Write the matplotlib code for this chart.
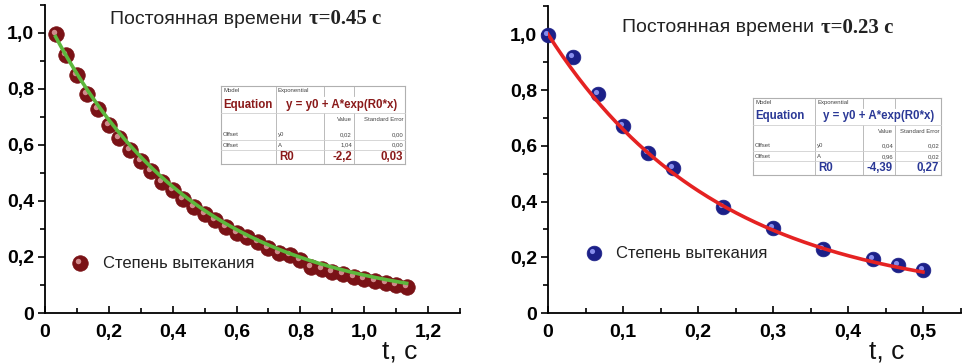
import numpy as np
import matplotlib
matplotlib.use("Agg")
import matplotlib.pyplot as plt
from matplotlib.ticker import MultipleLocator, FuncFormatter
from matplotlib.transforms import offset_copy
from matplotlib.lines import Line2D

plt.rcParams['font.family'] = ['Liberation Sans', 'DejaVu Sans']

W, H = 969, 364

#---------/Data/------------------------------#

# left panel: measured points
t_left = [0.033, 0.067, 0.100, 0.133, 0.167, 0.200, 0.233, 0.267, 0.300, 0.333,
          0.367, 0.400, 0.433, 0.467, 0.500, 0.533, 0.567, 0.600, 0.633, 0.667,
          0.700, 0.733, 0.767, 0.800, 0.833, 0.867, 0.900, 0.933, 0.967, 1.000,
          1.033, 1.067, 1.100, 1.133]
y_left = [0.998, 0.920, 0.849, 0.783, 0.730, 0.670, 0.626, 0.583, 0.542, 0.507,
          0.468, 0.438, 0.408, 0.379, 0.355, 0.331, 0.307, 0.287, 0.271, 0.254,
          0.232, 0.214, 0.206, 0.190, 0.166, 0.157, 0.146, 0.138, 0.129, 0.122,
          0.113, 0.108, 0.099, 0.092]

# right panel: measured points
t_right = [0.0, 0.033, 0.067, 0.100, 0.133, 0.167, 0.233, 0.300, 0.367, 0.433, 0.467, 0.500]
y_right = [0.998, 0.920, 0.786, 0.671, 0.575, 0.519, 0.381, 0.305, 0.231, 0.192, 0.174, 0.153]

# fit parameters shown in the tables: y = y0 + A*exp(R0*x)
fit_left = (0.02, 1.04, -2.2)
fit_right = (0.04, 0.96, -4.39)

# table texts
tab_left = {'y0': ('0,02', '0,00'), 'A': ('1,04', '0,00'), 'R0': ('-2,2', '0,03')}
tab_right = {'y0': ('0,04', '0,02'), 'A': ('0,96', '0,02'), 'R0': ('-4,39', '0,27')}

titles = ['Постоянная времени ', 'Постоянная времени ']
taus = ['τ=0.45 с', 'τ=0.23 с']
legend_label = 'Степень вытекания'


#---------/Helpers/------------------------------#

fig = plt.figure(figsize=(W / 100, H / 100), dpi=100)


def fx(x):
    return x / W


def fy(y):
    return 1 - y / H


def ftxt(x, y, s, **kw):
    fig.text(fx(x), fy(y), s, **kw)


def fline(x0, y0, x1, y1, **kw):
    fig.add_artist(Line2D([fx(x0), fx(x1)], [fy(y0), fy(y1)],
                          transform=fig.transFigure, **kw))


def comma(v, pos):
    if abs(v) < 1e-9:
        return '0'
    return ('%.1f' % v).replace('.', ',')


def sphere(ax, x, y, base, light, ms, transform=None):
    #Base ball plus a small highlight to fake the 3D look
    tr = ax.transData if transform is None else transform
    ax.plot(x, y, 'o', ms=ms, color=base, mec=base, mew=0.5,
            transform=tr, zorder=3, clip_on=False)
    tr2 = offset_copy(tr, fig=fig, x=-2, y=2, units='dots')
    ax.plot(x, y, 'o', ms=ms * 0.35, color=light, mec='none', alpha=0.85,
            transform=tr2, zorder=4, clip_on=False)


def setup_axes(ax, xmax, xmaj, xmin):
    ax.set_xlim(0, xmax)
    ax.set_ylim(0, 1.1)
    for s in ['top', 'right']:
        ax.spines[s].set_visible(False)
    for s in ['left', 'bottom']:
        ax.spines[s].set_linewidth(1.3)
    ax.xaxis.set_major_locator(MultipleLocator(xmaj))
    ax.xaxis.set_minor_locator(MultipleLocator(xmin))
    ax.yaxis.set_major_locator(MultipleLocator(0.2))
    ax.yaxis.set_minor_locator(MultipleLocator(0.1))
    ax.xaxis.set_major_formatter(FuncFormatter(comma))
    ax.yaxis.set_major_formatter(FuncFormatter(comma))
    ax.tick_params(axis='x', which='major', direction='in', length=5, width=1.2, pad=8)
    ax.tick_params(axis='x', which='minor', direction='in', length=3.5, width=1.2)
    ax.tick_params(axis='y', which='major', direction='out', length=5, width=1.2, pad=3)
    ax.tick_params(axis='y', which='minor', direction='out', length=3.5, width=1.2)
    for lab in ax.get_xticklabels() + ax.get_yticklabels():
        lab.set_fontsize(14)
        lab.set_fontweight('bold')
    ax.patch.set_alpha(0)


def draw_table(x0, x1, c1, c2, c3, y0, y1, color, vals):
    h = y1 - y0
    gy = lambda f: y0 + f * h
    grey = '#b0b0b0'
    # frame
    fline(x0, y0, x1, y0, color=grey, lw=0.8)
    fline(x0, y1, x1, y1, color=grey, lw=0.8)
    fline(x0, y0, x0, y1, color=grey, lw=0.8)
    fline(x1, y0, x1, y1, color=grey, lw=0.8)
    # inner lines
    fline(c1, y0, c1, y1, color=grey, lw=0.6)
    fline(c2, y0, c2, gy(0.13), color=grey, lw=0.6)
    fline(c3, y0, c3, gy(0.13), color=grey, lw=0.6)
    fline(c2, gy(0.35), c2, y1, color=grey, lw=0.6)
    fline(c3, gy(0.35), c3, y1, color=grey, lw=0.6)
    for f in [0.35, 0.69, 0.82]:
        fline(x0, gy(f), x1, gy(f), color='#d0d0d0', lw=0.6)
    small = dict(fontsize=4.3, color='#444444', va='center')
    ftxt(x0 + 2, gy(0.06), 'Model', **small)
    ftxt(c1 + 2, gy(0.06), 'Exponential', **small)
    ftxt(c3 - 2, gy(0.43), 'Value', ha='right', **small)
    ftxt(x1 - 2, gy(0.43), 'Standard Error', ha='right', **small)
    ftxt(x0 + 2, gy(0.62), 'Offset', **small)
    ftxt(x0 + 2, gy(0.76), 'Offset', **small)
    ftxt(c1 + 2, gy(0.62), 'y0', **small)
    ftxt(c1 + 2, gy(0.76), 'A', **small)
    ftxt(c3 - 2, gy(0.62), vals['y0'][0], ha='right', **small)
    ftxt(x1 - 2, gy(0.62), vals['y0'][1], ha='right', **small)
    ftxt(c3 - 2, gy(0.76), vals['A'][0], ha='right', **small)
    ftxt(x1 - 2, gy(0.76), vals['A'][1], ha='right', **small)
    big = dict(fontsize=8.3, color=color, fontweight='bold', va='center')
    ftxt(x0 + 2, gy(0.24), 'Equation', **big)
    ftxt((c1 + x1) / 2 + 1, gy(0.24), 'y = y0 + A*exp(R0*x)', ha='center', **big)
    ftxt(c1 + 3, gy(0.91), 'R0', **big)
    ftxt(c3 - 2, gy(0.91), vals['R0'][0], ha='right', **big)
    ftxt(x1 - 2, gy(0.91), vals['R0'][1], ha='right', **big)


#---------/Left panel/------------------------------#

axL = fig.add_axes([45 / W, 1 - 313 / H, 415 / W, 308 / H])
setup_axes(axL, 1.3, 0.2, 0.1)
sphere(axL, t_left, y_left, '#7a1216', '#e0a0a0', 11.2)
y0, A, R0 = fit_left
xs = np.linspace(t_left[0], t_left[-1], 200)
axL.plot(xs, y0 + A * np.exp(R0 * xs), color='#5cb83c', lw=2.6, zorder=5)

#---------/Right panel/------------------------------#

axR = fig.add_axes([548 / W, 1 - 313 / H, 412.5 / W, 306.6 / H])
setup_axes(axR, 0.55, 0.1, 0.05)
sphere(axR, t_right, y_right, '#1c2088', '#9aa0ff', 10.6)
y0, A, R0 = fit_right
xs = np.linspace(t_right[0], t_right[-1], 200)
axR.plot(xs, y0 + A * np.exp(R0 * xs), color='#e52222', lw=2.6, zorder=5)

#---------/Titles, legends, labels/------------------------------#

serif = ['Liberation Serif', 'DejaVu Serif']
ftxt(307, 19, titles[0], ha='right', va='center', fontsize=14, color='#222222')
ftxt(309, 19, taus[0], ha='left', va='center', fontsize=15, color='#222222',
     family=serif, fontweight='bold')
ftxt(819, 28, titles[1], ha='right', va='center', fontsize=14, color='#222222')
ftxt(821, 28, taus[1], ha='left', va='center', fontsize=15, color='#222222',
     family=serif, fontweight='bold')

# legend markers drawn in figure coordinates
sphere(axL, [fx(80)], [fy(263)], '#7a1216', '#e0a0a0', 11.2, transform=fig.transFigure)
ftxt(103, 263, legend_label, va='center', fontsize=12, color='#222222')
sphere(axR, [fx(594)], [fy(253)], '#1c2088', '#9aa0ff', 10.6, transform=fig.transFigure)
ftxt(616, 253, legend_label, va='center', fontsize=12, color='#222222')

ftxt(400, 358, 't, c', ha='center', va='baseline', fontsize=19, color='#111111')
ftxt(887, 358, 't, c', ha='center', va='baseline', fontsize=19, color='#111111')

#---------/Tables/------------------------------#

draw_table(221, 405, 276, 324, 354, 86, 164, '#8a1a1a', tab_left)
draw_table(753, 941, 815, 863, 895, 98, 175, '#2a3896', tab_right)

fig.savefig('out.png', dpi=100)
